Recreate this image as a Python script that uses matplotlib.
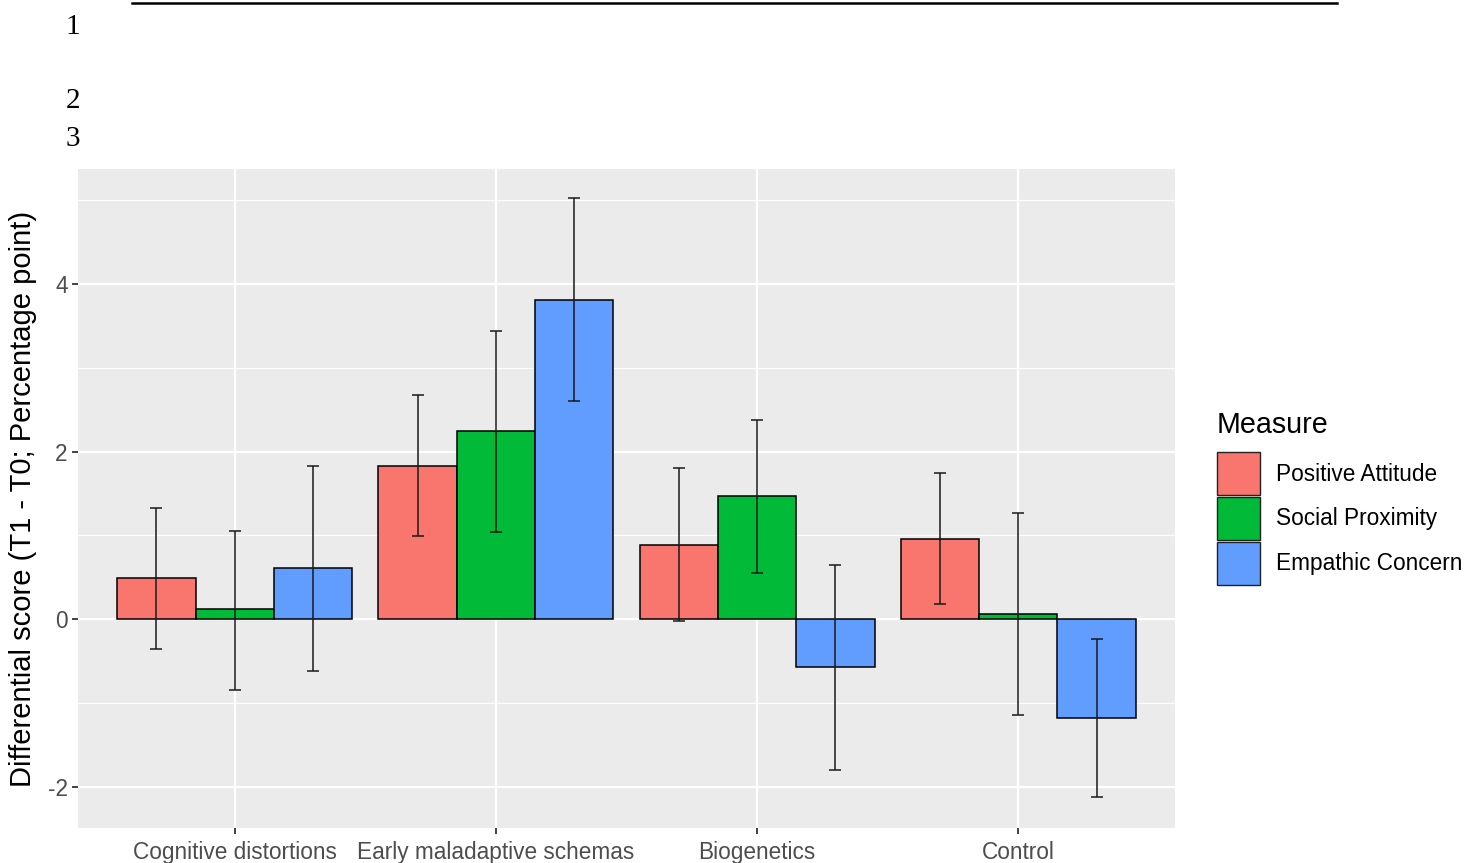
import matplotlib
matplotlib.use("Agg")
import matplotlib.pyplot as plt
import numpy as np
from matplotlib.patches import Patch
from matplotlib.lines import Line2D

plt.rcParams["axes.unicode_minus"] = False

# ---- data ----
conditions = ["Cognitive distortions", "Early maladaptive schemas", "Biogenetics", "Control"]
measures = ["Positive Attitude", "Social Proximity", "Empathic Concern"]
colors = ["#F8766D", "#00BA38", "#619CFF"]

pa_mean = [0.49, 1.83, 0.89, 0.96]
pa_low = [-0.36, 0.99, -0.02, 0.18]
pa_high = [1.33, 2.68, 1.80, 1.75]

sp_mean = [0.12, 2.24, 1.47, 0.06]
sp_low = [-0.84, 1.04, 0.55, -1.14]
sp_high = [1.05, 3.44, 2.38, 1.27]

ec_mean = [0.61, 3.81, -0.57, -1.18]
ec_low = [-0.62, 2.60, -1.80, -2.12]
ec_high = [1.83, 5.02, 0.65, -0.24]

means = [pa_mean, sp_mean, ec_mean]
lows = [pa_low, sp_low, ec_low]
highs = [pa_high, sp_high, ec_high]

line_numbers = ["1", "2", "3"]
yticks = [-2, 0, 2, 4]

W, H = 1484, 863
fig = plt.figure(figsize=(W / 100, H / 100), dpi=100)
fig.patch.set_facecolor("white")

ax = fig.add_axes([78 / W, (H - 828) / H, (1175 - 78) / W, (828 - 169) / H])
ax.set_facecolor("#EBEBEB")
for s in ax.spines.values():
    s.set_visible(False)

x = np.arange(len(conditions))
bw = 0.3
for i, (m, lo, hi, c) in enumerate(zip(means, lows, highs, colors)):
    pos = x + (i - 1) * bw
    ax.bar(pos, m, width=bw, color=c, edgecolor="black", linewidth=1.1, zorder=3)
    m_arr = np.array(m)
    yerr = np.vstack([m_arr - np.array(lo), np.array(hi) - m_arr])
    ax.errorbar(pos, m_arr, yerr=yerr, fmt="none", ecolor="#1a1a1a", elinewidth=1.1,
                capsize=4.5, capthick=1.1, zorder=4)

ax.set_xlim(-0.6, 3.6)
ax.set_ylim(-2.49, 5.37)
ax.set_yticks(yticks)
ax.set_yticks([-1, 1, 3, 5], minor=True)
ax.set_xticks(x)
ax.set_xticklabels(conditions)
ax.grid(which="major", color="white", linewidth=1.6, zorder=0)
ax.grid(which="minor", axis="y", color="white", linewidth=0.8, zorder=0)
ax.set_axisbelow(True)
ax.tick_params(axis="both", which="major", length=4, width=1.3, color="#333333",
               labelcolor="#4D4D4D", labelsize=16.3, pad=3.5)
ax.tick_params(axis="x", which="major", pad=5)
ax.tick_params(axis="y", which="minor", length=0)
for lab in ax.get_xticklabels() + ax.get_yticklabels():
    lab.set_fontfamily("Liberation Sans")

ax.set_ylabel("Differential score (T1 - T0; Percentage point)", fontsize=21,
              fontfamily="Liberation Sans", color="black")
ax.yaxis.set_label_coords(-0.037, 0.5)

handles = [Patch(facecolor=c, edgecolor="#222222", linewidth=1.0) for c in colors]
leg = fig.legend(handles, measures, loc="upper left",
                 bbox_to_anchor=(1217 / W, (H - 411) / H),
                 frameon=False, prop={"family": "Liberation Sans", "size": 16.3},
                 title="Measure", title_fontproperties={"family": "Liberation Sans", "size": 20.6},
                 handlelength=1.9, handleheight=2.55, labelspacing=0.08,
                 handletextpad=0.72, borderpad=0, borderaxespad=0, alignment="left")
leg._legend_box.sep = 9.5

# page decorations
for txt, yy in zip(line_numbers, [27, 101, 139]):
    fig.text(73 / W, 1 - yy / H, txt, ha="center", va="center",
             fontfamily="Liberation Serif", fontsize=21, color="black")
fig.add_artist(Line2D([132 / W, 1337 / W], [1 - 3 / H, 1 - 3 / H],
                      color="black", linewidth=1.8, transform=fig.transFigure))

fig.savefig("out.png", dpi=100)
